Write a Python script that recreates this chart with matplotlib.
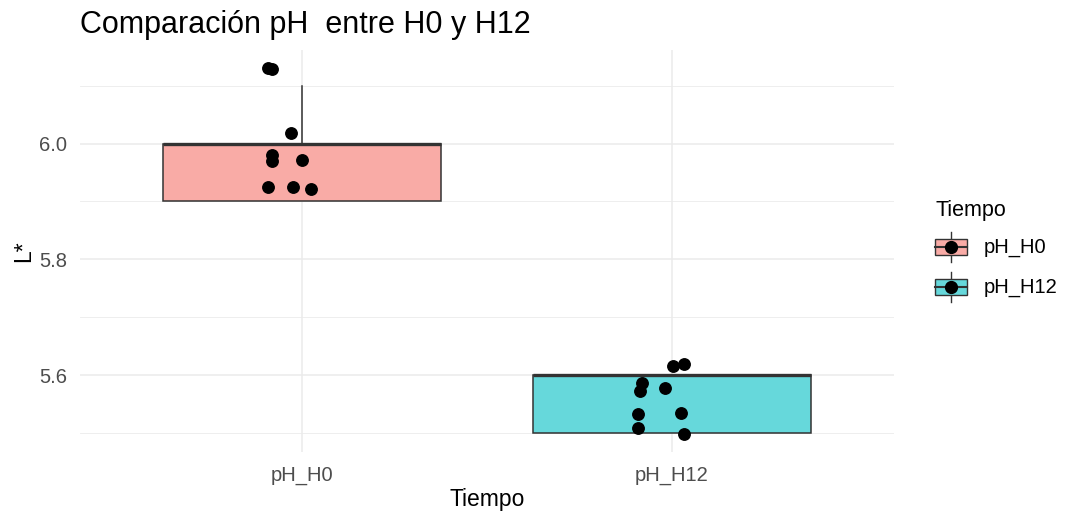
import numpy as np
import matplotlib.pyplot as plt
from matplotlib.patches import Rectangle
from matplotlib.lines import Line2D
from matplotlib.legend_handler import HandlerBase

plt.rcParams['font.family'] = ['Liberation Sans', 'DejaVu Sans']

# data
grupos = ['pH_H0', 'pH_H12']
colores = ['#F9ABA6', '#66D8DB']
ph_h0 = [6.130, 6.128, 6.018, 5.980, 5.970, 5.971, 5.925, 5.925, 5.921]
jit_h0 = [-0.092, -0.081, -0.031, -0.081, -0.081, 0.000, -0.092, -0.024, 0.024]
ph_h12 = [5.616, 5.619, 5.587, 5.572, 5.578, 5.533, 5.535, 5.509, 5.499]
jit_h12 = [0.004, 0.032, -0.082, -0.086, -0.019, -0.091, 0.024, -0.091, 0.033]
# resumen de las cajas (como aparecen en la figura)
q1 = [5.9, 5.5]
med = [6.0, 5.6]
q3 = [6.0, 5.6]
wlo = [5.9, 5.5]
whi = [6.1, 5.6]


class BoxKey(HandlerBase):
    # clave de leyenda estilo ggplot: caja + mediana + bigotes + punto
    def create_artists(self, legend, orig_handle, xdescent, ydescent,
                       width, height, fontsize, trans):
        x0, y0 = -xdescent, -ydescent
        fc = orig_handle.get_facecolor()
        cx, cy = x0 + width / 2, y0 + height / 2
        wl = Line2D([cx, cx], [y0 + height * 0.1, y0 + height * 0.9],
                    color='#333333', lw=1, transform=trans)
        r = Rectangle((x0, y0 + height * 0.29), width, height * 0.42,
                      facecolor=fc, edgecolor='#333333', lw=1, transform=trans)
        ml = Line2D([x0, x0 + width], [cy, cy], color='#333333', lw=1.5, transform=trans)
        pt = Line2D([cx], [cy], marker='o', color='black', markersize=8.5, transform=trans)
        return [wl, r, ml, pt]


fig = plt.figure(figsize=(10.67, 5.19), dpi=100, facecolor='w')
ax = fig.add_axes([80 / 1067, 67 / 519, 814 / 1067, 402 / 519])

stats = []
for i in range(2):
    stats.append({'med': med[i], 'q1': q1[i], 'q3': q3[i],
                  'whislo': wlo[i], 'whishi': whi[i], 'fliers': []})
bp = ax.bxp(stats, positions=[1, 2], widths=0.75, patch_artist=True,
            showcaps=False, showfliers=False,
            boxprops=dict(edgecolor='#333333', linewidth=1.1),
            medianprops=dict(color='#333333', linewidth=2.4),
            whiskerprops=dict(color='#333333', linewidth=1.1), zorder=2)
for p, c in zip(bp['boxes'], colores):
    p.set_facecolor(c)

ax.scatter(1 + np.array(jit_h0), ph_h0, s=68, color='black', zorder=3)
ax.scatter(2 + np.array(jit_h12), ph_h12, s=68, color='black', zorder=3)

ymin, ymax = 5.499, 6.130
pad = (ymax - ymin) * 0.05
ax.set_ylim(ymin - pad, ymax + pad)
ax.set_xlim(0.4, 2.6)
ax.set_xticks([1, 2])
ax.set_xticklabels(grupos)
ax.set_yticks([5.6, 5.8, 6.0])
ax.set_yticklabels(['5.6', '5.8', '6.0'])
ax.set_yticks([5.5, 5.7, 5.9, 6.1], minor=True)
ax.grid(True, which='major', color='#EBEBEB', lw=1.1, zorder=0)
ax.grid(True, which='minor', axis='y', color='#EBEBEB', lw=0.6, zorder=0)
ax.set_axisbelow(True)
for s in ax.spines.values():
    s.set_visible(False)
ax.tick_params(which='both', length=0, labelsize=14.5, labelcolor='#4D4D4D')
ax.tick_params(axis='x', pad=10)
ax.tick_params(axis='y', pad=9)

ax.set_xlabel('Tiempo', fontsize=16.5, labelpad=2)
ax.set_ylabel('L*', fontsize=16.5, labelpad=3)
ax.set_title('Comparación pH  entre H0 y H12', loc='left', fontsize=22, pad=12)

handles = [Rectangle((0, 0), 1, 1, facecolor=c) for c in colores]
leg = fig.legend(handles, grupos, handler_map={Rectangle: BoxKey()},
                 title='Tiempo', loc='upper left', bbox_to_anchor=(917 / 1067, 1 - 182 / 519),
                 frameon=False, fontsize=14.5, title_fontsize=15.5,
                 handlelength=1.6, handleheight=2.52, labelspacing=0.1, handletextpad=0.8)
leg._legend_box.align = 'left'
leg._legend_box.sep = 5  # espacio entre título y claves

fig.savefig('out.png', dpi=100)
